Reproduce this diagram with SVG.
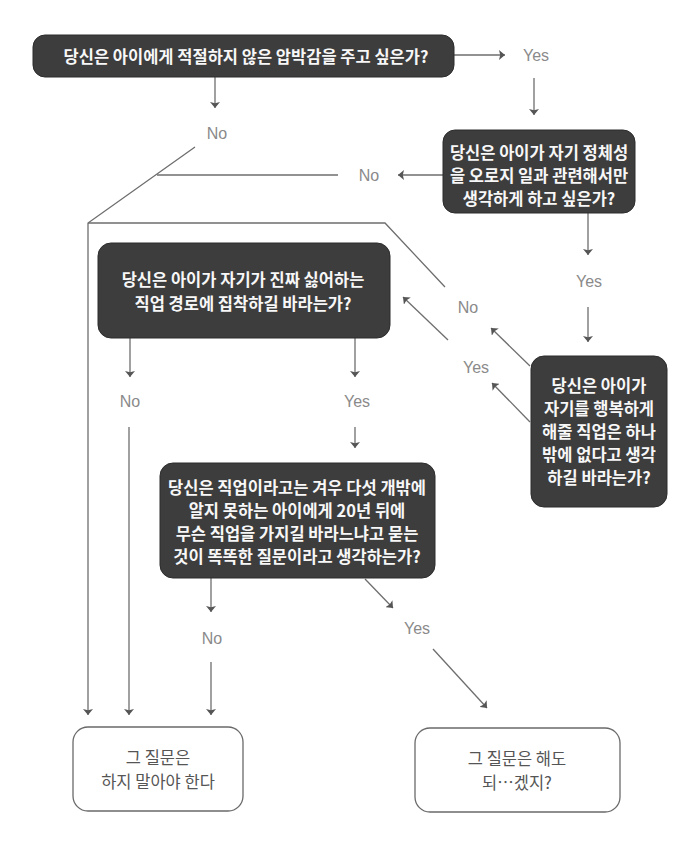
<svg xmlns="http://www.w3.org/2000/svg" width="689" height="848" viewBox="0 0 689 848">
<style>
.dark rect{fill:#3d3d3d;stroke:#2c2c2c;stroke-width:1}
.dark text{fill:#f7f7f7;font-family:"Noto Sans CJK KR",sans-serif;font-weight:bold;font-size:16.5px;text-anchor:middle;dominant-baseline:central}
.end rect{fill:#ffffff;stroke:#6a6a6a;stroke-width:1.3}
.end text{fill:#555555;font-family:"Noto Sans CJK KR",sans-serif;font-size:16.5px;text-anchor:middle;dominant-baseline:central}
.lbl{fill:#8a8a8a;font-family:"Liberation Sans",Arial,sans-serif;font-size:16px;text-anchor:middle;dominant-baseline:central}
#connectors path,#connectors line{fill:none;stroke:#6e6e6e;stroke-width:1.3}
</style>
<defs>
<marker id="ah" viewBox="0 0 6 10" refX="6" refY="5" markerWidth="6" markerHeight="10" markerUnits="userSpaceOnUse" orient="auto">
<path d="M0,0 L6,5 L0,10 L1.2,5 z" fill="#555555"/>
</marker>
</defs>
<rect width="689" height="848" fill="#ffffff"/>

<g id="connectors">
<line x1="454" y1="55" x2="505" y2="55" marker-end="url(#ah)"/>
<line x1="534" y1="78" x2="534" y2="115" marker-end="url(#ah)"/>
<line x1="215" y1="77" x2="215" y2="108" marker-end="url(#ah)"/>
<path d="M195,147 L88,223 L88,715" marker-end="url(#ah)"/>
<line x1="443" y1="175" x2="398" y2="175" marker-end="url(#ah)"/>
<line x1="338" y1="175" x2="157" y2="175"/>
<line x1="588" y1="213" x2="588" y2="255" marker-end="url(#ah)"/>
<line x1="588" y1="307" x2="588" y2="342" marker-end="url(#ah)"/>
<line x1="530" y1="366" x2="491" y2="328" marker-end="url(#ah)"/>
<path d="M445,287 L385,223 L88,223"/>
<line x1="530" y1="422" x2="492" y2="383" marker-end="url(#ah)"/>
<line x1="448" y1="340" x2="403" y2="297" marker-end="url(#ah)"/>
<line x1="130" y1="338" x2="130" y2="377" marker-end="url(#ah)"/>
<line x1="129" y1="427" x2="129" y2="715" marker-end="url(#ah)"/>
<line x1="355" y1="338" x2="355" y2="377" marker-end="url(#ah)"/>
<line x1="355" y1="427" x2="355" y2="448" marker-end="url(#ah)"/>
<line x1="211" y1="578" x2="211" y2="612" marker-end="url(#ah)"/>
<line x1="211" y1="662" x2="211" y2="715" marker-end="url(#ah)"/>
<line x1="365" y1="579" x2="393" y2="608" marker-end="url(#ah)"/>
<line x1="433" y1="649" x2="487" y2="708" marker-end="url(#ah)"/>
</g>

<g id="labels">
<text class="lbl" x="536" y="55">Yes</text>
<text class="lbl" x="217" y="133">No</text>
<text class="lbl" x="369" y="175">No</text>
<text class="lbl" x="589" y="281">Yes</text>
<text class="lbl" x="468" y="307">No</text>
<text class="lbl" x="476" y="367">Yes</text>
<text class="lbl" x="130" y="401">No</text>
<text class="lbl" x="357" y="401">Yes</text>
<text class="lbl" x="212" y="638">No</text>
<text class="lbl" x="417" y="628">Yes</text>
</g>

<g id="q1" class="dark">
<rect x="33" y="35" width="421" height="42" rx="12"/>
<text x="246" y="56">당신은 아이에게 적절하지 않은 압박감을 주고 싶은가?</text>
</g>

<g id="q2" class="dark">
<rect x="443" y="130" width="192" height="83" rx="12"/>
<text x="539" y="152">당신은 아이가 자기 정체성</text>
<text x="539" y="175">을 오로지 일과 관련해서만</text>
<text x="539" y="198">생각하게 하고 싶은가?</text>
</g>

<g id="q3" class="dark">
<rect x="98" y="243" width="292" height="95" rx="13"/>
<text x="243" y="279">당신은 아이가 자기가 진짜 싫어하는</text>
<text x="243" y="303">직업 경로에 집착하길 바라는가?</text>
</g>

<g id="q4" class="dark">
<rect x="531" y="356" width="136" height="151" rx="13"/>
<text x="599" y="385">당신은 아이가</text>
<text x="599" y="408">자기를 행복하게</text>
<text x="599" y="431">해줄 직업은 하나</text>
<text x="599" y="454">밖에 없다고 생각</text>
<text x="599" y="477">하길 바라는가?</text>
</g>

<g id="q5" class="dark">
<rect x="160" y="463" width="275" height="115" rx="13"/>
<text x="297" y="487">당신은 직업이라고는 겨우 다섯 개밖에</text>
<text x="297" y="510">알지 못하는 아이에게 20년 뒤에</text>
<text x="297" y="533">무슨 직업을 가지길 바라느냐고 묻는</text>
<text x="297" y="556">것이 똑똑한 질문이라고 생각하는가?</text>
</g>

<g id="endNo" class="end">
<rect x="73" y="727" width="170" height="84" rx="15"/>
<text x="158" y="757">그 질문은</text>
<text x="158" y="781">하지 말아야 한다</text>
</g>

<g id="endYes" class="end">
<rect x="415" y="728" width="205" height="84" rx="15"/>
<text x="517" y="758">그 질문은 해도</text>
<text x="517" y="782">되…겠지?</text>
</g>
</svg>
